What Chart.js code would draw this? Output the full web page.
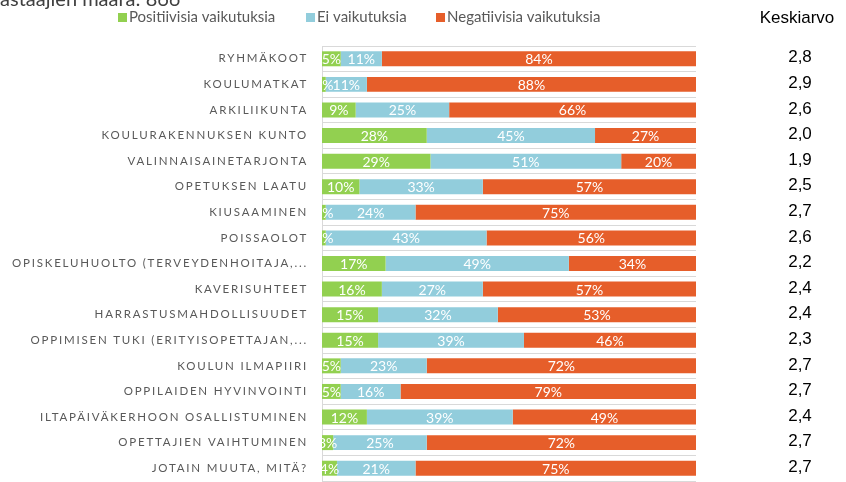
<!DOCTYPE html>
<html>
<head>
<meta charset="utf-8">
<script src="https://cdn.jsdelivr.net/npm/chart.js@4"></script>
<style>
  html, body { margin: 0; padding: 0; background: #fff; }
  #wrap { width: 846px; height: 482px; position: relative; }
</style>
</head>
<body>
<div id="wrap"><canvas id="chart" width="846" height="482"></canvas></div>
<script>
const categories = [
  "RYHMÄKOOT", "KOULUMATKAT", "ARKILIIKUNTA", "KOULURAKENNUKSEN KUNTO",
  "VALINNAISAINETARJONTA", "OPETUKSEN LAATU", "KIUSAAMINEN", "POISSAOLOT",
  "OPISKELUHUOLTO (TERVEYDENHOITAJA,...", "KAVERISUHTEET", "HARRASTUSMAHDOLLISUUDET",
  "OPPIMISEN TUKI (ERITYISOPETTAJAN,...", "KOULUN ILMAPIIRI", "OPPILAIDEN HYVINVOINTI",
  "ILTAPÄIVÄKERHOON OSALLISTUMINEN", "OPETTAJIEN VAIHTUMINEN", "JOTAIN MUUTA, MITÄ?"
];
const positive = [5, 1, 9, 28, 29, 10, 1, 1, 17, 16, 15, 15, 5, 5, 12, 3, 4];
const neutral  = [11, 11, 25, 45, 51, 33, 24, 43, 49, 27, 32, 39, 23, 16, 39, 25, 21];
const negative = [84, 88, 66, 27, 20, 57, 75, 56, 34, 57, 53, 46, 72, 79, 49, 72, 75];
const averages = ["2,8", "2,9", "2,6", "2,0", "1,9", "2,5", "2,7", "2,6", "2,2", "2,4", "2,4", "2,3", "2,7", "2,7", "2,4", "2,7", "2,7"];
const seriesNames = ["Positiivisia vaikutuksia", "Ei vaikutuksia", "Negatiivisia vaikutuksia"];
const colors = ["#92D050", "#92CDDC", "#E65E2A"];
const respondents = "Vastaajien määrä: 866";

// kirjainväli y-akselin teksteille
const spacingPlugin = {
  id: "spacing",
  beforeDraw(chart) { chart.ctx.letterSpacing = "1.8px"; },
  beforeDatasetsDraw(chart) { chart.ctx.letterSpacing = "0px"; }
};

// arvot palkkien sisään, leikattu kuva-alueeseen
const labelPlugin = {
  id: "barLabels",
  afterDatasetsDraw(chart) {
    const ctx = chart.ctx;
    const a = chart.chartArea;
    ctx.save();
    ctx.letterSpacing = "0px";
    ctx.beginPath();
    ctx.rect(a.left, a.top, a.right - a.left, a.bottom - a.top);
    ctx.clip();
    ctx.font = "14px Lato";
    ctx.fillStyle = "#fff";
    ctx.textAlign = "center";
    ctx.textBaseline = "middle";
    chart.data.datasets.forEach((ds, di) => {
      chart.getDatasetMeta(di).data.forEach((bar, i) => {
        const cx = (bar.x + bar.base) / 2;
        ctx.fillText(ds.data[i] + "%", cx, bar.y + 1);
      });
    });
    ctx.restore();
  }
};

// otsikko, selite ja keskiarvosarake
const extrasPlugin = {
  id: "extras",
  afterDraw(chart) {
    const ctx = chart.ctx;
    const y = chart.scales.y;
    ctx.save();
    ctx.letterSpacing = "0px";
    ctx.textBaseline = "alphabetic";
    ctx.textAlign = "left";
    ctx.fillStyle = "#404040";
    ctx.font = "20px Lato";
    ctx.fillText(respondents, -12, 6);

    const legendX = [118, 306, 436];
    ctx.font = "15px Lato";
    ctx.textBaseline = "middle";
    seriesNames.forEach((name, i) => {
      ctx.fillStyle = colors[i];
      ctx.fillRect(legendX[i], 13, 9, 9);
      ctx.fillStyle = "#595959";
      ctx.fillText(name, legendX[i] + 11, 17.5);
    });

    ctx.fillStyle = "#000";
    ctx.font = "17px 'Liberation Sans'";
    ctx.textAlign = "center";
    ctx.fillText("Keskiarvo", 797, 18);
    averages.forEach((v, i) => {
      ctx.fillText(v, 800, y.getPixelForValue(i) - 1);
    });
    ctx.restore();
  }
};

const chartData = {
  labels: categories,
  datasets: [positive, neutral, negative].map((d, i) => ({
    label: seriesNames[i],
    data: d,
    backgroundColor: colors[i],
    borderWidth: 0,
    barPercentage: 0.9,
    categoryPercentage: 0.65,
  })),
};

const config = {
  type: "bar",
  data: chartData,
  options: {
    indexAxis: "y",
    responsive: false,
    animation: false,
    layout: { padding: { top: 46, right: 150, bottom: 1, left: 0 } },
    plugins: {
      legend: { display: false },
      tooltip: { enabled: false },
    },
    scales: {
      x: {
        stacked: true,
        min: 0,
        max: 100,
        display: false,
      },
      y: {
        stacked: true,
        grid: { color: "#D9D9D9", lineWidth: 1, drawTicks: false, offset: true },
        border: { color: "#D9D9D9" },
        ticks: {
          color: "#595959",
          font: { family: "Lato", size: 11.5 },
          padding: 14,
        },
        afterFit(scale) {
          scale.width = 322;
          scale.paddingTop = 0;
          scale.paddingBottom = 0;
        },
      },
    },
  },
  plugins: [spacingPlugin, labelPlugin, extrasPlugin],
};

const ctx = document.getElementById("chart").getContext("2d");
const effectsChart = new Chart(ctx, config);
</script>
</body>
</html>
